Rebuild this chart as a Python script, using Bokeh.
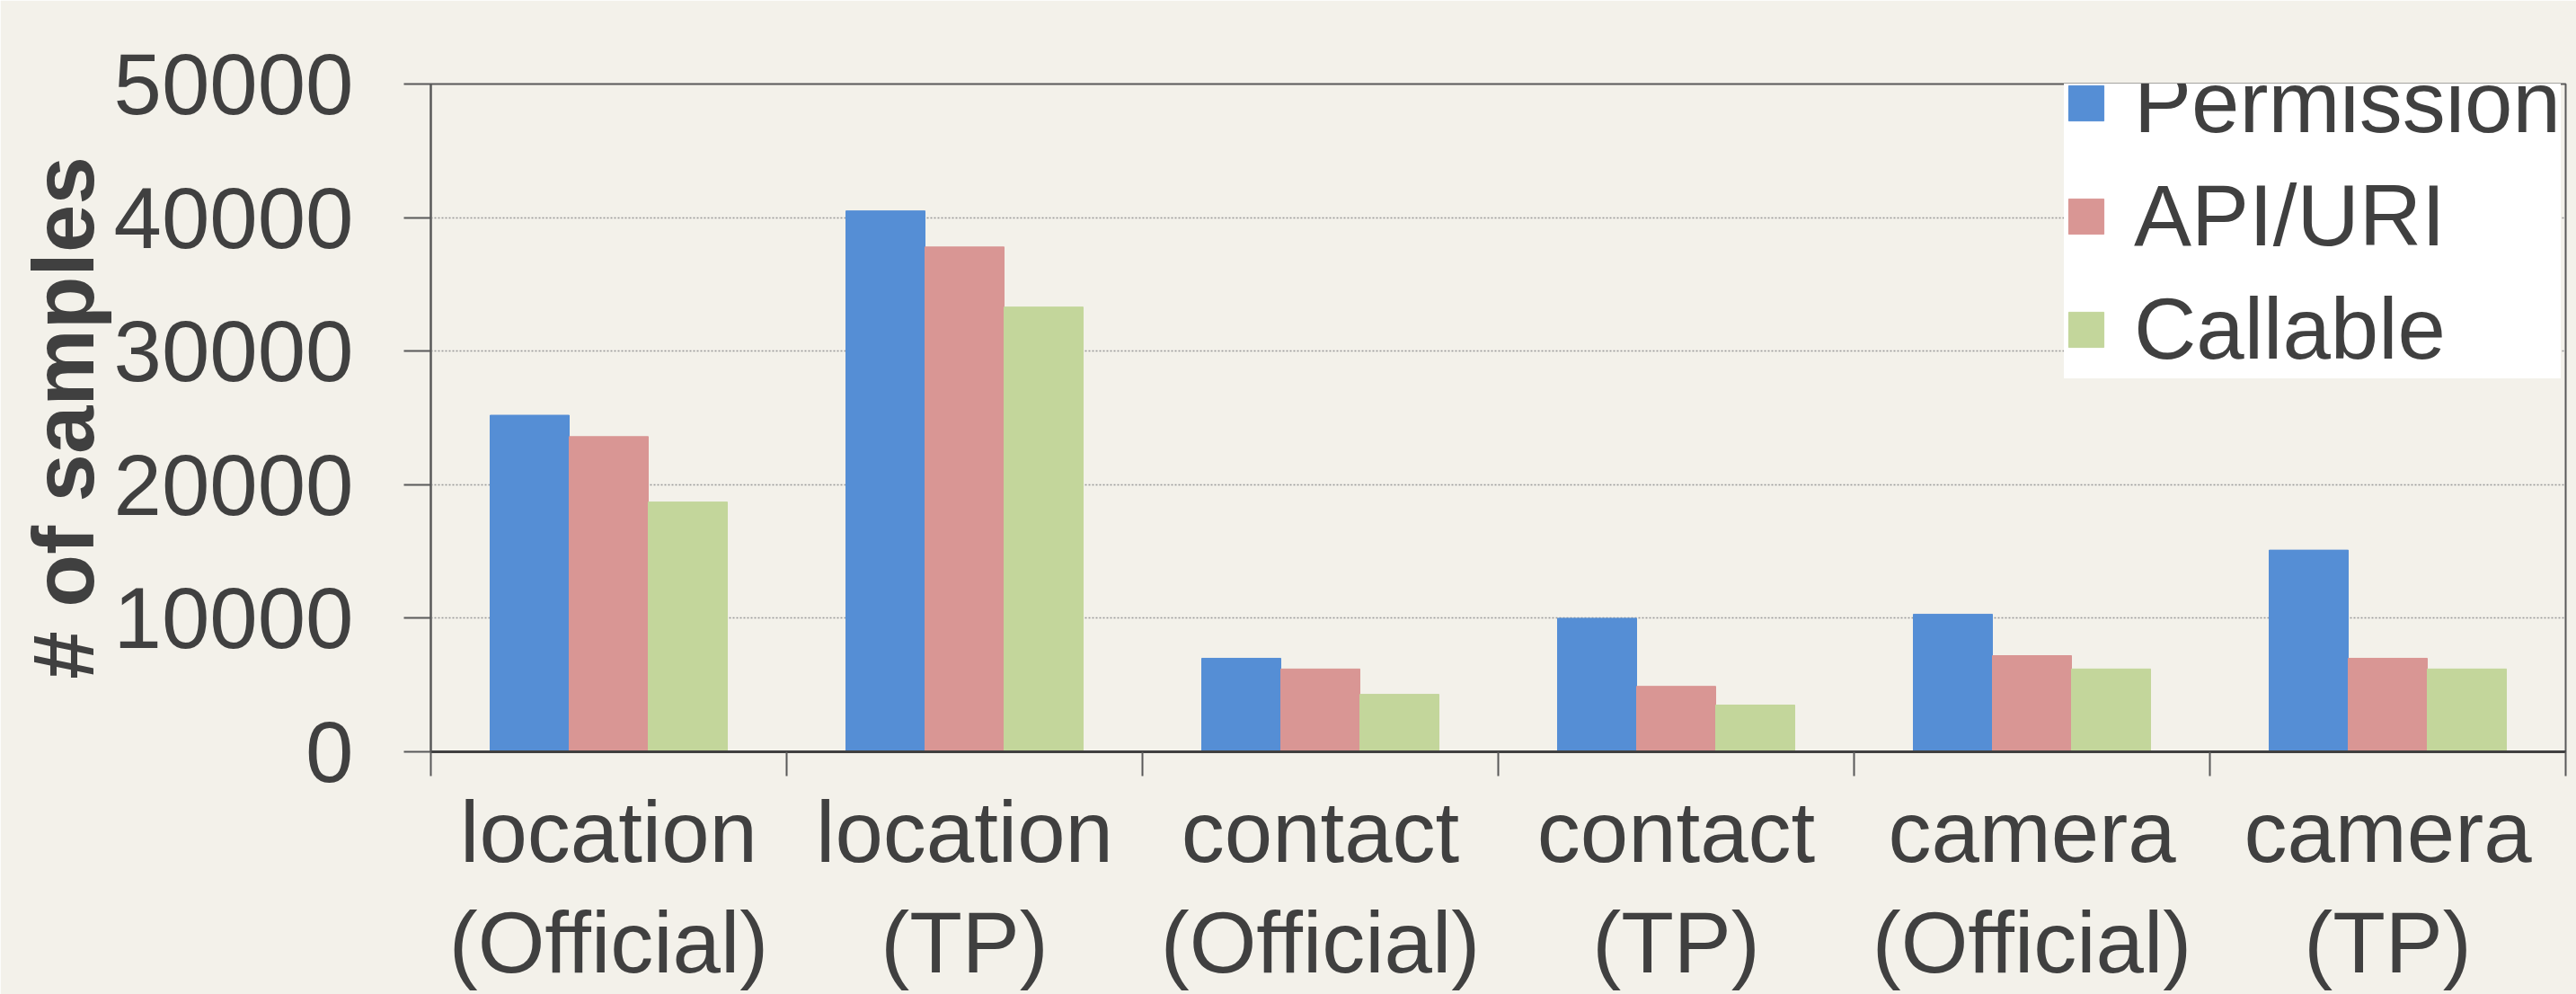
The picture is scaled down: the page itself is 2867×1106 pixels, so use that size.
from bokeh.plotting import figure
from bokeh.models import (ColumnDataSource, Range1d, LinearAxis, FixedTicker, Legend, LegendItem)
from bokeh.transform import dodge
from bokeh.embed import file_html
from bokeh.resources import INLINE

categories = ["location\n(Official)", "location\n(TP)", "contact\n(Official)",
              "contact\n(TP)", "camera\n(Official)", "camera\n(TP)"]
permission = [25200, 40500, 7000, 10000, 10300, 15100]
api_uri = [23600, 37800, 6200, 4900, 7200, 7000]
callable_ = [18700, 33300, 4300, 3500, 6200, 6200]
series_names = ["Permission", "API/URI", "Callable"]
y_ticks = [0, 10000, 20000, 30000, 40000, 50000]

BG = "#F3F1EA"
TXT = "#404040"
AX = "#595959"
FONT = "Liberation Sans"
FS = "96px"
colors = ["#558ED5", "#D99694", "#C3D69B"]

n = len(categories)
centers = [i + 0.5 for i in range(n)]
boundaries = list(range(n + 1))

source = ColumnDataSource(dict(x=centers, perm=permission, api=api_uri, call=callable_))

p = figure(x_range=Range1d(0, n), y_range=Range1d(0, 50000),
           width=2867, height=1106, output_backend="svg", toolbar_location=None,
           x_axis_location=None, min_border_left=479, min_border_right=12,
           min_border_top=93, min_border_bottom=270)
p.background_fill_color = BG
p.border_fill_color = BG
p.outline_line_color = AX
p.outline_line_width = 2

# one x axis: labels at category centres, minor ticks (drawn outward) at category boundaries
cax = LinearAxis(ticker=FixedTicker(ticks=centers, minor_ticks=boundaries),
                 major_label_overrides={c: lab for c, lab in zip(centers, categories)})
cax.major_tick_out = 0
cax.major_tick_in = 0
cax.minor_tick_out = 0
cax.minor_tick_in = -27
cax.minor_tick_line_color = AX
cax.minor_tick_line_width = 2
cax.axis_line_color = "#404040"
cax.axis_line_width = 3
cax.major_label_text_font = FONT
cax.major_label_text_font_size = FS
cax.major_label_text_color = TXT
cax.major_label_text_line_height = 1.15
cax.major_label_standoff = 35
p.add_layout(cax, "below")

yax = p.yaxis[0]
yax.ticker = FixedTicker(ticks=y_ticks)
yax.major_tick_out = 30
yax.major_tick_in = 0
yax.minor_tick_out = 0
yax.minor_tick_in = 0
yax.major_tick_line_color = AX
yax.major_tick_line_width = 2
yax.axis_line_color = AX
yax.axis_line_width = 2
yax.major_label_text_font = FONT
yax.major_label_text_font_size = FS
yax.major_label_text_color = TXT
yax.major_label_standoff = 56
yax.axis_label = "# of samples"
yax.axis_label_text_font = FONT
yax.axis_label_text_font_style = "bold"
yax.axis_label_text_font_size = FS
yax.axis_label_text_color = TXT
yax.axis_label_standoff = 0

p.xgrid.visible = False
p.ygrid.ticker = FixedTicker(ticks=y_ticks[1:-1])
p.ygrid.grid_line_color = "#999999"
p.ygrid.grid_line_dash = "2 2"
p.ygrid.grid_line_width = 1.5

w = 2.0 / 9
renderers = []
for field, off, col in zip(["perm", "api", "call"], [-w, 0, w], colors):
    r = p.vbar(x=dodge("x", off), top=field, width=w, source=source,
               fill_color=col, line_color=col, line_width=1)
    renderers.append(r)

legend = Legend(items=[LegendItem(label=nm, renderers=[r]) for nm, r in zip(series_names, renderers)],
                location=(1818, 415))
legend.background_fill_color = "white"
legend.background_fill_alpha = 1
legend.border_line_color = None
legend.label_text_font = FONT
legend.label_text_font_size = FS
legend.label_text_color = TXT
legend.glyph_width = 49
legend.glyph_height = 49
legend.label_standoff = 29
legend.padding = 36
legend.spacing = 16
legend.margin = 0
p.add_layout(legend, "center")

open("out.html", "w").write(file_html(p, INLINE))
